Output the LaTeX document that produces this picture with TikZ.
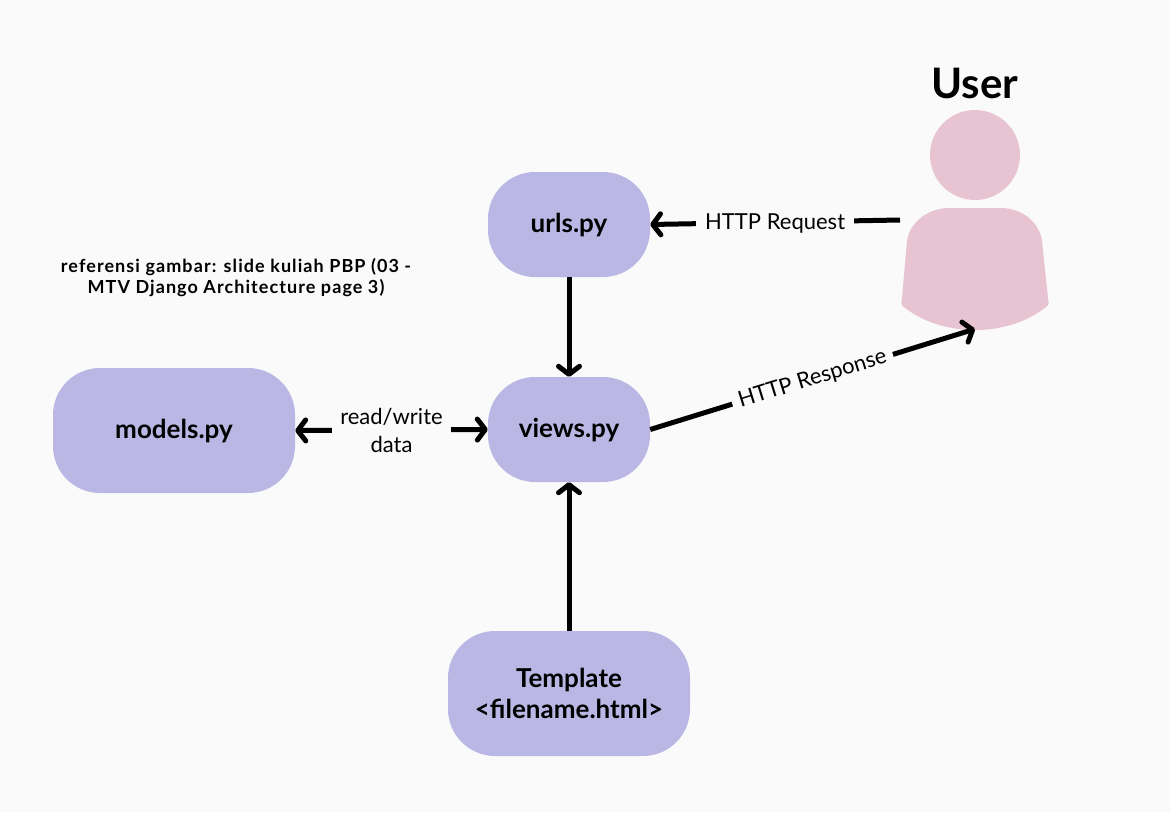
\documentclass[tikz,border=0pt]{standalone}
\usepackage{fontspec}
\setmainfont{Lato}
\usetikzlibrary{arrows.meta}
\definecolor{bg}{HTML}{FAFAFA}
\definecolor{boxc}{HTML}{BBB7E5}
\definecolor{userc}{HTML}{E8C3D1}
\tikzset{
 box/.style={fill=boxc,rounded corners=47pt,inner sep=0pt,align=center,font=\fontsize{26}{31}\selectfont\bfseries},
 oneline/.style={text height=16pt,text depth=0pt},
 barb/.tip={Straight Barb[length=8pt,width=21pt,line width=5pt,round]},
 conn/.style={line width=5pt,-barb,black},
 biconn/.style={line width=5pt,barb-barb,black},
 lab/.style={fill=bg,inner sep=0pt,align=center,font=\fontsize{22}{28}\selectfont}
}
\begin{document}
\begin{tikzpicture}[x=1pt,y=-1pt]
\useasboundingbox[fill=bg] (0,0) rectangle (1170,812);
\node[box,oneline,minimum width=162pt,minimum height=105pt] (urls) at (569,224.5) {urls.py};
\node[box,oneline,minimum width=162pt,minimum height=105pt] (views) at (569,429.5) {views.py};
\node[box,oneline,minimum width=242pt,minimum height=125pt] (models) at (174,430.5) {models.py};
\node[box,minimum width=242pt,minimum height=125pt] (template) at (569,693.5) {Template\\<filename.html>};
\fill[userc] (975,155) circle (45);
\fill[userc] (950,208) -- (1000,208) .. controls (1025,208) and (1040,225) .. (1042,241)
  -- (1048,298) .. controls (1049,303) and (1049,305) .. (1046,307) .. controls (1030,320) and (1005,330) .. (975,330)
  .. controls (945,330) and (920,320) .. (904,307) .. controls (901,305) and (901,303) .. (902,298)
  -- (907,241) .. controls (909,225) and (925,208) .. (950,208) -- cycle;
\node[font=\fontsize{42}{46}\selectfont\bfseries,inner sep=0pt] (user) at (975,83) {User};
\coordinate (userL) at (900,220);
\coordinate (userB) at (975,329);
\node[align=center,inner sep=0pt,font=\fontsize{18}{21}\selectfont\bfseries\addfontfeature{LetterSpace=6}] (note) at (236,278) {referensi gambar: slide kuliah PBP (03 -\\MTV Django Architecture page 3)};
\draw[conn] (urls) -- (views);
\draw[conn] (template) -- (views);
\draw[conn] (userL) -- (urls.east) node[lab,pos=0.5,minimum width=158pt,yshift=-1.5pt] (req) {HTTP Request};
\draw[conn] (views.east) -- (userB) node[lab,pos=0.5,sloped,minimum width=168pt] (resp) {HTTP Response};
\draw[biconn] (models.east) -- (views.west) node[lab,midway,minimum width=119pt] (rw) {read/write\\data};
\end{tikzpicture}
\end{document}
